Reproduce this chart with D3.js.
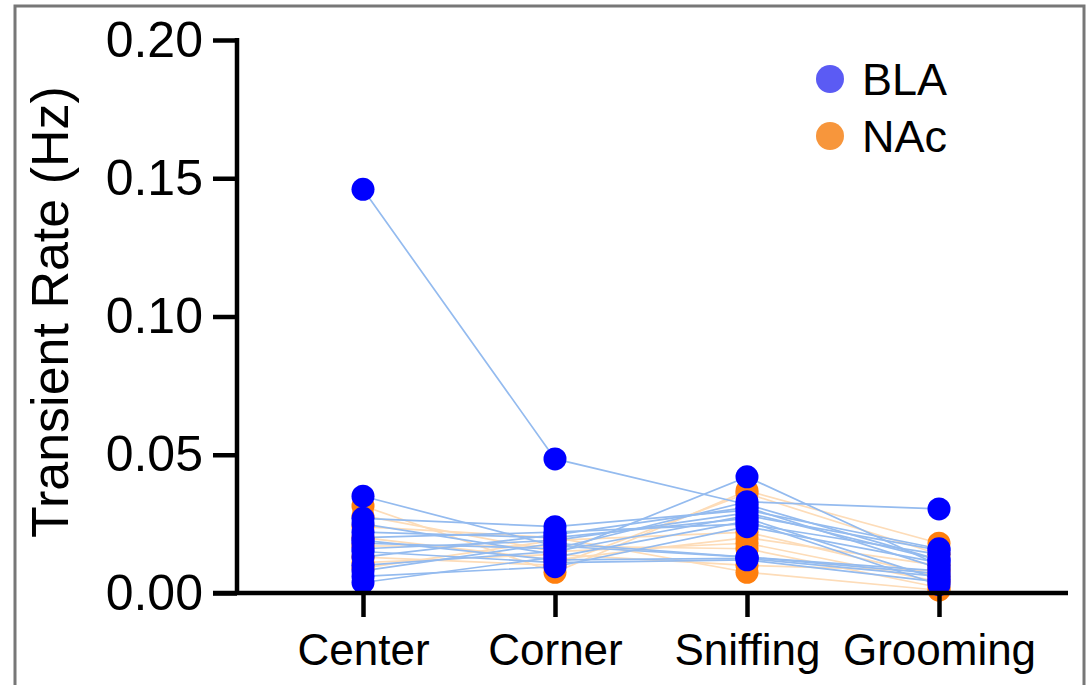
<!DOCTYPE html>
<html>
<head>
<meta charset="utf-8">
<script src="https://cdn.jsdelivr.net/npm/d3@7"></script>
<style>
  html, body { margin: 0; padding: 0; background: #fff; }
  svg { display: block; font-family: "Liberation Sans", Arial, sans-serif; }
</style>
</head>
<body>
<svg id="chart" width="1091" height="685"></svg>
<script>
// ---- Data ----
const categories = ["Center", "Corner", "Sniffing", "Grooming"];
const yTicks = [0.00, 0.05, 0.10, 0.15, 0.20];
const seriesNames = ["BLA", "NAc"];

// Each row is one subject: [Center, Corner, Sniffing, Grooming]
const blaValues = [
  [0.146, 0.0485, 0.032, 0.012],
  [0.035, 0.017, 0.013, 0.008],
  [0.027, 0.024, 0.030, 0.016],
  [0.025, 0.014, 0.042, 0.010],
  [0.022, 0.020, 0.027, 0.005],
  [0.020, 0.022, 0.025, 0.014],
  [0.019, 0.012, 0.0125, 0.006],
  [0.018, 0.016, 0.033, 0.0304],
  [0.016, 0.019, 0.029, 0.012],
  [0.015, 0.011, 0.012, 0.004],
  [0.013, 0.021, 0.031, 0.009],
  [0.010, 0.015, 0.028, 0.0155],
  [0.008, 0.018, 0.013, 0.007],
  [0.006, 0.0095, 0.024, 0.011],
  [0.0038, 0.013, 0.026, 0.003]
];
const nacValues = [
  [0.0315, 0.0075, 0.037, 0.018],
  [0.028, 0.015, 0.018, 0.004],
  [0.024, 0.020, 0.0075, 0.001],
  [0.020, 0.012, 0.020, 0.010],
  [0.017, 0.017, 0.016, 0.002],
  [0.013, 0.010, 0.036, 0.014],
  [0.011, 0.014, 0.010, 0.008],
  [0.009, 0.019, 0.022, 0.006]
];

// ---- Layout ----
const svg = d3.select("#chart");
const x = d3.scalePoint().domain(categories).range([363, 939]);
const y = d3.scaleLinear().domain([0, 0.20]).range([593, 40]);

const dotColor = { BLA: "#0000ff", NAc: "#ff7f0e" };
const lineColor = { BLA: "#94bbef", NAc: "#fddcb8" };
const legendColor = { BLA: "#5b5bf4", NAc: "#f7963c" };

// frame
svg.append("rect")
  .attr("x", 15).attr("y", 6).attr("width", 1069).attr("height", 700)
  .attr("fill", "none").attr("stroke", "#777").attr("stroke-width", 3);

// lines
const line = d3.line().x((d, i) => x(categories[i])).y(d => y(d));
svg.append("g").selectAll("path").data(nacValues).join("path")
  .attr("d", line).attr("fill", "none")
  .attr("stroke", lineColor.NAc).attr("stroke-width", 1.7);
svg.append("g").selectAll("path").data(blaValues).join("path")
  .attr("d", line).attr("fill", "none")
  .attr("stroke", lineColor.BLA).attr("stroke-width", 1.7);

// dots
function flat(rows, name) {
  const out = [];
  rows.forEach(r => r.forEach((v, i) => out.push({ cat: categories[i], v, name })));
  return out;
}
svg.append("g").selectAll("circle").data(flat(nacValues, "NAc")).join("circle")
  .attr("cx", d => x(d.cat)).attr("cy", d => y(d.v)).attr("r", 11.5)
  .attr("fill", dotColor.NAc);
svg.append("g").selectAll("circle").data(flat(blaValues, "BLA")).join("circle")
  .attr("cx", d => x(d.cat)).attr("cy", d => y(d.v)).attr("r", 11.5)
  .attr("fill", dotColor.BLA);

// axes
const yAxis = svg.append("g").attr("transform", "translate(237,0)")
  .call(d3.axisLeft(y).tickValues(yTicks).tickFormat(d3.format(".2f")).tickSize(24).tickPadding(10));
const xAxis = svg.append("g").attr("transform", "translate(0,593)")
  .call(d3.axisBottom(x).tickSize(24).tickPadding(10));

[yAxis, xAxis].forEach(g => {
  g.select(".domain").remove();
  g.selectAll(".tick line").attr("stroke", "#000").attr("stroke-width", 4.5);
  g.selectAll(".tick text").attr("fill", "#000").style("font-family", "'Liberation Sans', Arial, sans-serif");
});
yAxis.selectAll(".tick text").attr("font-size", 50);
xAxis.selectAll(".tick text").attr("font-size", 44).attr("dy", "0.71em").attr("y", 41);

// axis lines
svg.append("line").attr("x1", 237).attr("x2", 237).attr("y1", y(0.20) - 2).attr("y2", y(0) + 2)
  .attr("stroke", "#000").attr("stroke-width", 4.5);
svg.append("line").attr("x1", 213).attr("x2", 1068).attr("y1", y(0)).attr("y2", y(0))
  .attr("stroke", "#000").attr("stroke-width", 4.5);

// y title
svg.append("text")
  .attr("transform", `translate(68,312) rotate(-90)`)
  .attr("text-anchor", "middle")
  .attr("font-size", 52)
  .attr("fill", "#000")
  .text("Transient Rate (Hz)");

// legend
const legend = svg.append("g").selectAll("g").data(seriesNames).join("g")
  .attr("transform", (d, i) => `translate(830,${79 + i * 57})`);
legend.append("circle").attr("r", 14).attr("fill", d => legendColor[d]);
legend.append("text").attr("x", 32).attr("y", 16).attr("font-size", 45)
  .attr("fill", "#000").text(d => d);
</script>
</body>
</html>
